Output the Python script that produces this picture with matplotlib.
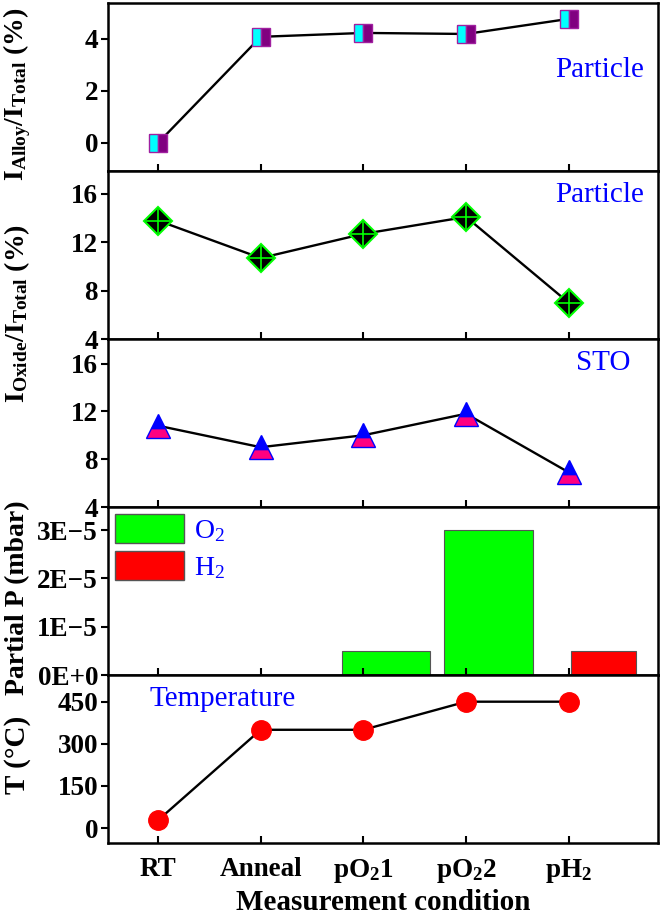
import matplotlib
matplotlib.use('Agg')
import matplotlib.pyplot as plt
from matplotlib.patches import Patch
from matplotlib.ticker import FuncFormatter
import numpy as np

plt.rcParams['font.family'] = ['Liberation Serif', 'DejaVu Serif']
plt.rcParams['font.weight'] = 'bold'
plt.rcParams['mathtext.fontset'] = 'custom'
plt.rcParams['mathtext.rm'] = 'Liberation Serif'
plt.rcParams['mathtext.bf'] = 'Liberation Serif:bold'
plt.rcParams['mathtext.default'] = 'regular'

# data
conditions = ['RT', 'Anneal', 'pO$_2$1', 'pO$_2$2', 'pH$_2$']
alloy_ratio = [0.0, 4.08, 4.23, 4.19, 4.77]
oxide_particle = [13.8, 10.7, 12.7, 14.1, 7.0]
oxide_sto = [10.8, 9.0, 10.0, 11.8, 6.9]
p_o2 = [0, 0, 0.5e-5, 3.0e-5, 0]
p_h2 = [0, 0, 0, 0, 0.5e-5]
temperature = [28, 350, 350, 450, 450]

x = np.arange(len(conditions))

fig, axes = plt.subplots(5, 1, sharex=True, figsize=(6.61, 9.16), dpi=100)
fig.subplots_adjust(left=0.163, right=0.9955, top=0.9967, bottom=0.0797, hspace=0)

blue = '#0000ff'
tick_size = 19.5
note_size = 21

for ax in axes:
    for s in ax.spines.values():
        s.set_linewidth(1.8)
    ax.tick_params(axis='y', direction='out', length=5, width=1.5, labelsize=tick_size, pad=2)
    ax.tick_params(axis='x', direction='in', length=5, width=1.5, labelsize=tick_size, pad=10)

# panel 1 - alloy
ax = axes[0]
ax.plot(x, alloy_ratio, color='black', lw=1.7, zorder=2)
ax.plot(x, alloy_ratio, ls='none', marker='s', ms=13, fillstyle='left',
        mfc='#00ffff', mfcalt='#800080', mec='#a020a0', mew=1, zorder=3)
ax.set_ylim(-1.08, 5.38)
ax.set_yticks([0, 2, 4])
ax.text(0.975, 0.6, 'Particle', transform=ax.transAxes, ha='right', va='center',
        color=blue, fontsize=note_size, fontweight='normal')

# panel 2 - oxide particle
ax = axes[1]
ax.plot(x, oxide_particle, color='black', lw=1.7, zorder=2)
ax.plot(x, oxide_particle, ls='none', marker='D', ms=14, mfc='black',
        mec='#00ff00', mew=1.5, zorder=3)
ax.plot(x, oxide_particle, ls='none', marker='+', ms=17, mec='#00ff00',
        mew=1.2, zorder=4)
ax.set_ylim(4, 17.9)
ax.set_yticks([4, 8, 12, 16])
ax.text(0.975, 0.86, 'Particle', transform=ax.transAxes, ha='right', va='center',
        color=blue, fontsize=note_size, fontweight='normal')

# panel 3 - oxide sto
ax = axes[2]
ax.plot(x, oxide_sto, color='black', lw=1.7, zorder=2)
ax.plot(x, oxide_sto, ls='none', marker='^', ms=17, fillstyle='bottom',
        mfc='#ff0080', mfcalt='#0000ff', mec='#0000ff', mew=1, zorder=3)
ax.set_ylim(4, 18.05)
ax.set_yticks([4, 8, 12, 16])
ax.text(0.95, 0.86, 'STO', transform=ax.transAxes, ha='right', va='center',
        color=blue, fontsize=note_size, fontweight='normal')

# panel 4 - partial pressure
ax = axes[3]
o2_shift, o2_width = 0.22, 0.86
h2_shift, h2_width = 0.34, 0.64
o2_mask = np.array(p_o2) > 0
h2_mask = np.array(p_h2) > 0
ax.bar(x[o2_mask] + o2_shift, np.array(p_o2)[o2_mask], width=o2_width,
       color='#00ff00', edgecolor='#555555', lw=0.8)
ax.bar(x[h2_mask] + h2_shift, np.array(p_h2)[h2_mask], width=h2_width,
       color='#ff0000', edgecolor='#555555', lw=0.8)
ax.set_ylim(0, 3.48e-5)
ax.set_yticks([0, 1e-5, 2e-5, 3e-5])
ax.yaxis.set_major_formatter(FuncFormatter(
    lambda v, p: '0E+0' if v == 0 else f'{v * 1e5:.0f}E\u22125'))
handles = [Patch(facecolor='#00ff00', edgecolor='#555555', label='O$_2$'),
           Patch(facecolor='#ff0000', edgecolor='#555555', label='H$_2$')]
ax.legend(handles=handles, loc='upper left', frameon=False,
          prop={'size': 20, 'weight': 'normal'},
          labelcolor=blue, handlelength=2.5, handleheight=1.25,
          borderaxespad=0.1, borderpad=0.15, labelspacing=0.25, handletextpad=0.35)

# panel 5 - temperature
ax = axes[4]
ax.plot(x, temperature, color='black', lw=1.7, zorder=2)
ax.plot(x, temperature, ls='none', marker='o', ms=14, mfc='#ff0000',
        mec='#ff0000', zorder=3)
ax.set_ylim(-53, 545)
ax.set_yticks([0, 150, 300, 450])
ax.text(0.075, 0.86, 'Temperature', transform=ax.transAxes, ha='left', va='center',
        color=blue, fontsize=note_size, fontweight='normal')

ax.set_xlim(-0.49, 4.87)
ax.set_xticks(x)
ax.set_xticklabels(conditions, fontweight='bold', fontsize=tick_size)
ax.set_xlabel('Measurement condition', fontweight='bold', fontsize=21, labelpad=3)

# y labels
fig.text(0.026, 1 - 94 / 916, 'I$_{Alloy}$/I$_{Total}$ (%)', rotation=90,
         ha='center', va='center', fontsize=20, fontweight='bold')
fig.text(0.026, 1 - 313 / 916, 'I$_{Oxide}$/I$_{Total}$ (%)', rotation=90,
         ha='center', va='center', fontsize=20, fontweight='bold')
fig.text(0.026, 1 - 598 / 916, 'Partial P (mbar)', rotation=90,
         ha='center', va='center', fontsize=20, fontweight='bold')
fig.text(0.026, 1 - 755 / 916, 'T (\u00b0C)', rotation=90,
         ha='center', va='center', fontsize=21, fontweight='bold')

fig.savefig('out.png', dpi=100)
